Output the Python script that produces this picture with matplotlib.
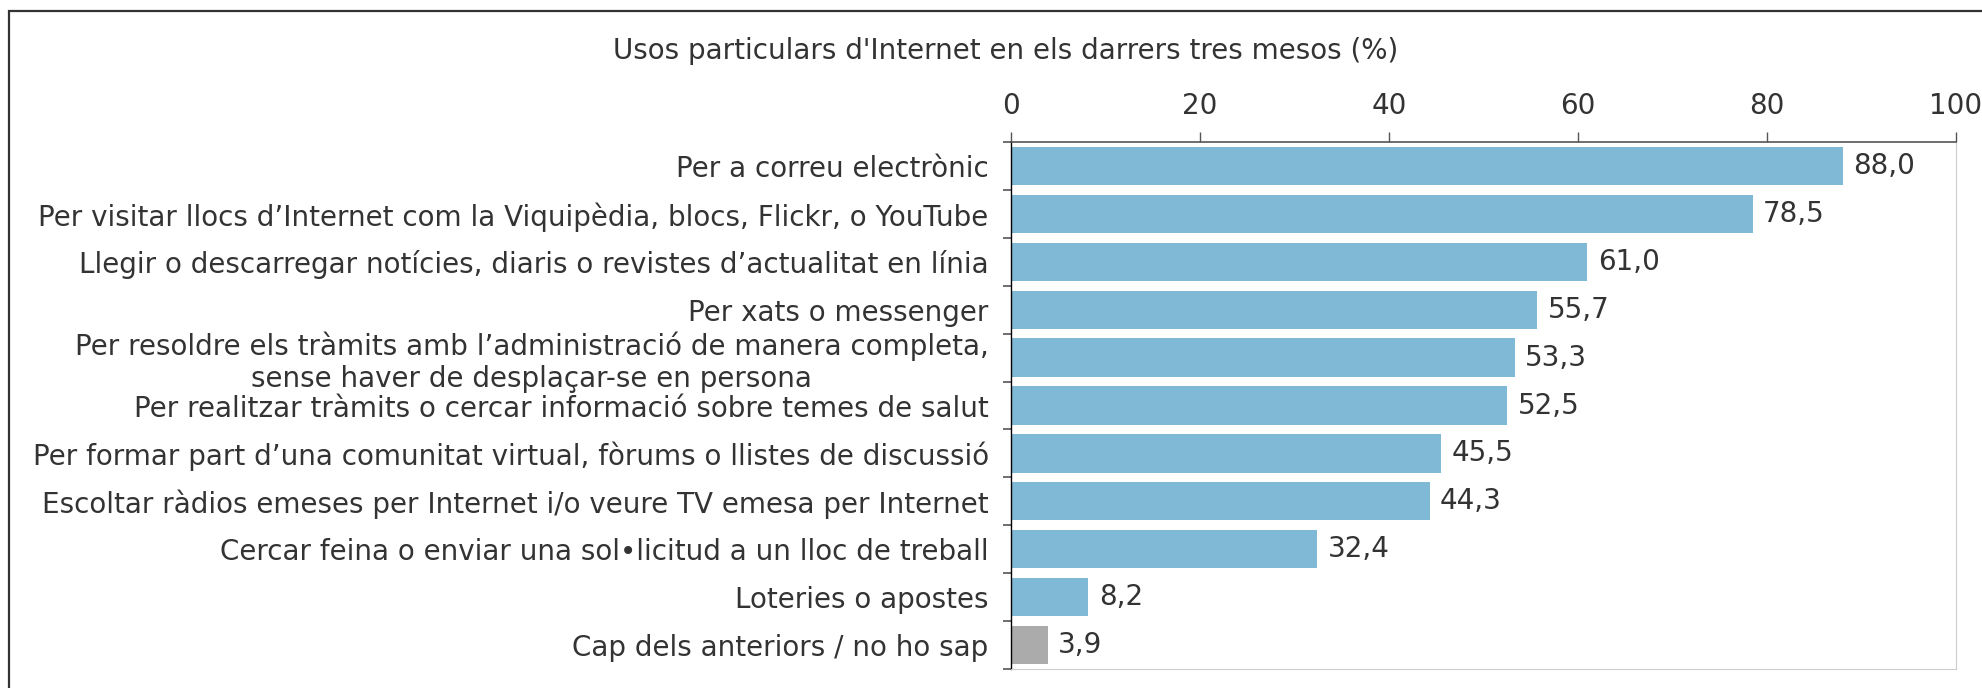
import matplotlib
matplotlib.use("Agg")
import matplotlib.pyplot as plt
from matplotlib.patches import Rectangle

# ------------------------------------------
# Data
# ------------------------------------------

categories = [
    "Per a correu electrònic",
    "Per visitar llocs d’Internet com la Viquipèdia, blocs, Flickr, o YouTube",
    "Llegir o descarregar notícies, diaris o revistes d’actualitat en línia",
    "Per xats o messenger",
    "Per resoldre els tràmits amb l’administració de manera completa,\nsense haver de desplaçar-se en persona",
    "Per realitzar tràmits o cercar informació sobre temes de salut",
    "Per formar part d’una comunitat virtual, fòrums o llistes de discussió",
    "Escoltar ràdios emeses per Internet i/o veure TV emesa per Internet",
    "Cercar feina o enviar una sol•licitud a un lloc de treball",
    "Loteries o apostes",
    "Cap dels anteriors / no ho sap",
]

values = [88.0, 78.5, 61.0, 55.7, 53.3, 52.5, 45.5, 44.3, 32.4, 8.2, 3.9]

x_ticks = [0, 20, 40, 60, 80, 100]

title = "Usos particulars d'Internet en els darrers tres mesos (%)"

# ------------------------------------------
# Style
# ------------------------------------------

text_color = "#333333"
blue = "#80b9d6"
grey = "#ababab"
colors = [blue] * (len(values) - 1) + [grey]
fs = 20

plt.rcParams["font.family"] = ["DejaVu Sans"]
plt.rcParams["font.size"] = fs

fig = plt.figure(figsize=(19.83, 6.88), dpi=100)

# outer frame (only left and top edges visible)
fig.patches.append(Rectangle((0.0043, -0.05), 1.2, 1.034,
                             transform=fig.transFigure, fill=False,
                             edgecolor="#333333", linewidth=1.6))

ax = fig.add_axes([0.5098, 0.0276, 0.9864 - 0.5098, 0.7936 - 0.0276])

y_pos = list(range(len(values)))

ax.barh(y_pos, values, height=0.8, color=colors)

for y, v in zip(y_pos, values):
    ax.text(v + 1.1, y, f"{v:.1f}".replace(".", ","),
            va="center", ha="left", color=text_color, fontsize=fs)

ax.set_xlim(0, 100)
ax.set_ylim(len(values) - 0.5, -0.5)

# x axis on top
ax.xaxis.set_ticks_position("top")
ax.set_xticks(x_ticks)
ax.set_xticklabels([str(t) for t in x_ticks])
ax.tick_params(axis="x", direction="out", length=7, width=1,
               color="#555555", labelcolor=text_color, pad=9, labelsize=fs)

# y axis labels, with ticks at row boundaries
ax.set_yticks(y_pos)
ax.set_yticklabels(categories, multialignment="center", linespacing=1.15)
ax.tick_params(axis="y", length=0, labelcolor=text_color, pad=16, labelsize=fs)
ax.set_yticks([i + 0.5 for i in range(-1, len(values))], minor=True)
ax.tick_params(axis="y", which="minor", direction="out", length=6,
               width=1.2, color="#555555")

ax.spines["left"].set_color("#000000")
ax.spines["left"].set_linewidth(1)
ax.spines["top"].set_color("#555555")
ax.spines["top"].set_linewidth(1.2)
ax.spines["right"].set_color("#cccccc")
ax.spines["bottom"].set_color("#cccccc")

fig.text(0.507, 0.926, title, ha="center", va="center",
         color=text_color, fontsize=fs)

plt.savefig("out.png", dpi=100)
